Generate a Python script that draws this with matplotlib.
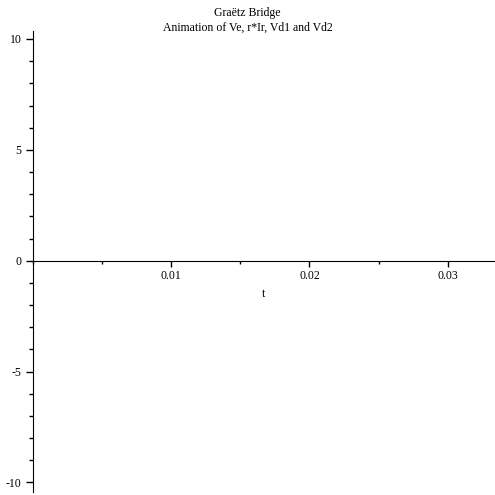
import matplotlib
matplotlib.use("Agg")
import matplotlib.pyplot as plt
from matplotlib.ticker import MultipleLocator, FixedLocator

# axis ranges and ticks
x_range = [0.0, 0.0334]
y_range = [-10.43, 10.36]
x_ticks = [0.01, 0.02, 0.03]
x_labels = ["0.01", "0.02", "0.03"]
y_ticks = [-10, -5, 0, 5, 10]
y_labels = ["-10", "-5", "0", "5", "10"]
title_lines = ["Graëtz Bridge", "Animation of Ve, r*Ir, Vd1 and Vd2"]
x_name = "t"

plt.rcParams['font.family'] = ['Liberation Serif', 'DejaVu Serif']

fig = plt.figure(figsize=(4.95, 4.95), dpi=100)
ax = fig.add_axes([32.5/495, 3/495, (495-32.5)/495, (492-31)/495])
ax.set_xlim(x_range)
ax.set_ylim(y_range)

ax.spines['top'].set_visible(False)
ax.spines['right'].set_visible(False)
ax.spines['bottom'].set_position(('data', 0))
ax.spines['left'].set_position(('data', 0))

ax.xaxis.set_major_locator(FixedLocator(x_ticks))
ax.set_xticklabels(x_labels)
ax.xaxis.set_minor_locator(MultipleLocator(0.005))
ax.yaxis.set_major_locator(FixedLocator(y_ticks))
ax.set_yticklabels(y_labels)
ax.yaxis.set_minor_locator(MultipleLocator(1))

ax.tick_params(axis='x', which='major', direction='out', length=4, width=1, labelsize=8.5, pad=3)
ax.tick_params(axis='x', which='minor', direction='out', length=2, width=1)
ax.tick_params(axis='y', which='major', direction='out', length=5, width=1, labelsize=8.5, pad=3)
ax.tick_params(axis='y', which='minor', direction='out', length=3, width=1)

ax.set_xlabel(x_name, fontsize=8.5)
ax.xaxis.set_label_coords(0.5, (492-288)/461)

fig.text(0.5, 1 - 13/495, title_lines[0], ha='center', va='center', fontsize=8.5)
fig.text(0.5, 1 - 28/495, title_lines[1], ha='center', va='center', fontsize=8.5)

fig.savefig("out.png", dpi=100)
